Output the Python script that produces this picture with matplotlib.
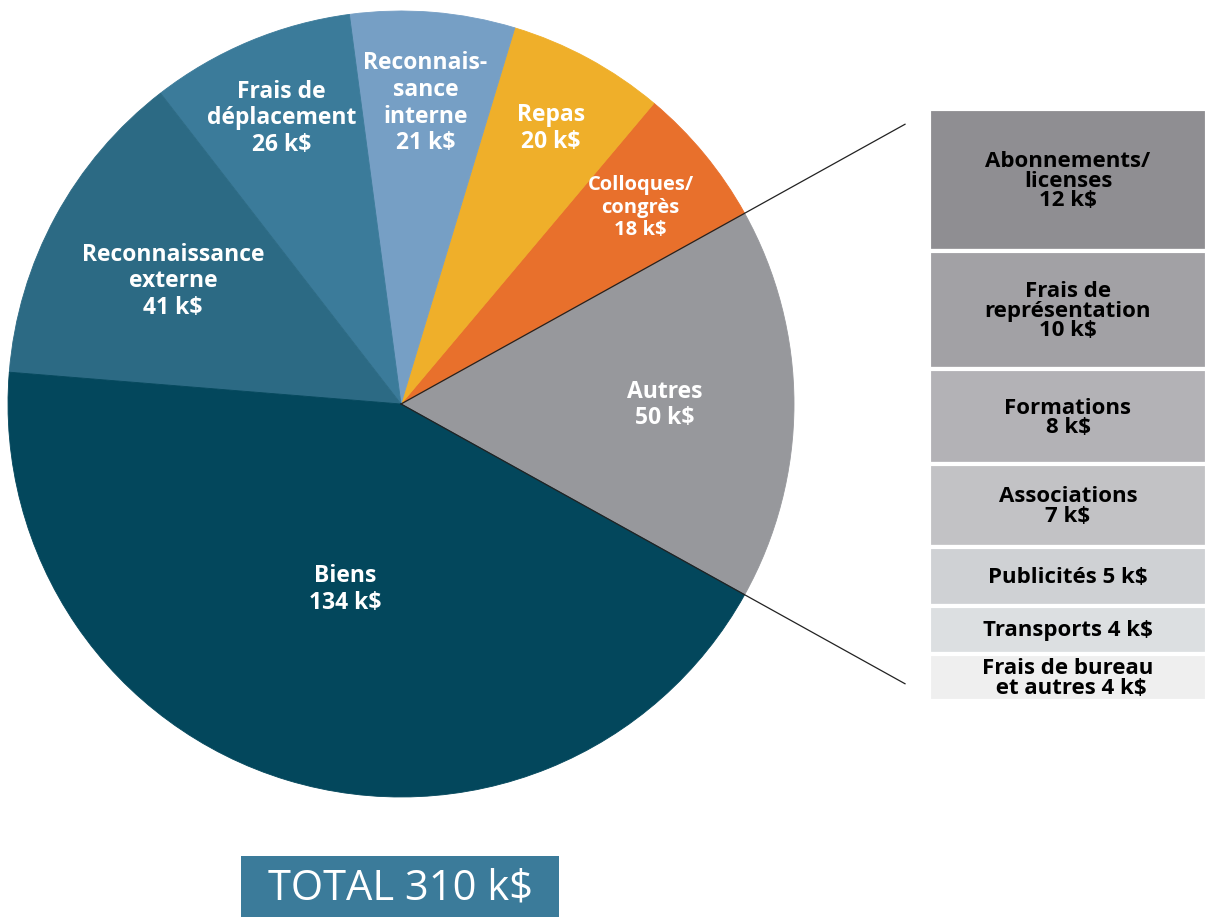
import numpy as np
import matplotlib
matplotlib.use('Agg')
import matplotlib.pyplot as plt
from matplotlib.patches import Rectangle

plt.rcParams['font.family'] = ['Open Sans', 'DejaVu Sans']

# detail of "Autres"
detail_labels = ['Abonnements/\nlicenses', 'Frais de\nreprésentation', 'Formations',
                 'Associations', 'Publicités', 'Transports', 'Frais de bureau\n et autres']
detail_values = [12, 10, 8, 7, 5, 4, 4]
detail_inline = [False, False, False, False, True, True, True]
detail_colors = ['#8f8e92', '#a2a1a5', '#b3b2b6', '#c2c2c5', '#cfd1d4', '#dcdfe1', '#efefef']

# pie, counterclockwise starting from "Autres"
pie_labels = ['Autres', 'Colloques/\ncongrès', 'Repas', 'Reconnais-\nsance\ninterne',
              'Frais de\ndéplacement', 'Reconnaissance\nexterne', 'Biens']
pie_values = [sum(detail_values), 18, 20, 21, 26, 41, 134]
pie_colors = ['#97989c', '#e8702c', '#efaf2a', '#769fc5', '#3b7b9a', '#2c6a84', '#03475c']
label_r = [0.67, 0.79, 0.80, 0.77, 0.79, 0.66, 0.49]
label_fs = [16.5, 14.5, 16.5, 16.5, 16.5, 16.5, 16.5]

total = sum(pie_values)

W, H = 1207, 920
fig = plt.figure(figsize=(W / 100, H / 100), dpi=100)
ax = fig.add_axes([0, 0, 1, 1])

cx, cy, R = 401, 515, 393
wedges, _ = ax.pie(pie_values, colors=pie_colors, startangle=-180 * pie_values[0] / total,
                   counterclock=True, center=(cx, cy), radius=R, frame=True)
for w in wedges:
    w.set_edgecolor(w.get_facecolor())
    w.set_linewidth(0.6)

for w, lab, v, r, fs in zip(wedges, pie_labels, pie_values, label_r, label_fs):
    mid = np.radians((w.theta1 + w.theta2) / 2)
    ax.text(cx + r * R * np.cos(mid), cy + r * R * np.sin(mid), f'{lab}\n{v} k$',
            ha='center', va='center', color='white', fontsize=fs, fontweight='bold',
            linespacing=1.15)

# connector lines along the edges of "Autres"
for ang in (wedges[0].theta1, wedges[0].theta2):
    a = np.radians(ang)
    t = (905 - cx) / np.cos(a)
    ax.plot([cx, cx + t * np.cos(a)], [cy, cy + t * np.sin(a)], color='#222222', lw=0.9)

# total box
ax.add_patch(Rectangle((241, 2), 318, 61, color='#3b7b9a', lw=0))
ax.text(400, 31, f'TOTAL {total} k$', ha='center', va='center', color='white',
        fontsize=30, fontweight=500)

ax.set_xlim(0, W)
ax.set_ylim(0, H)
ax.axis('off')

# stacked breakdown
ax2 = fig.add_axes([929 / W, (H - 702) / H, 1 - 929 / W, 592 / H])
bottoms = np.concatenate([[0], np.cumsum(detail_values)[:-1]])
ax2.bar(0, detail_values, bottom=bottoms, width=1, color=detail_colors,
        edgecolor='white', linewidth=3)
for lab, v, b, inl in zip(detail_labels, detail_values, bottoms, detail_inline):
    txt = f'{lab} {v} k$' if inl else f'{lab}\n{v} k$'
    ax2.text(0, b + v / 2, txt, ha='center', va='center', color='black',
             fontsize=16, fontweight='bold', linespacing=0.9)
ax2.set_xlim(-0.5, 0.5)
ax2.set_ylim(sum(detail_values), 0)
ax2.axis('off')

fig.savefig('out.png', dpi=100)
